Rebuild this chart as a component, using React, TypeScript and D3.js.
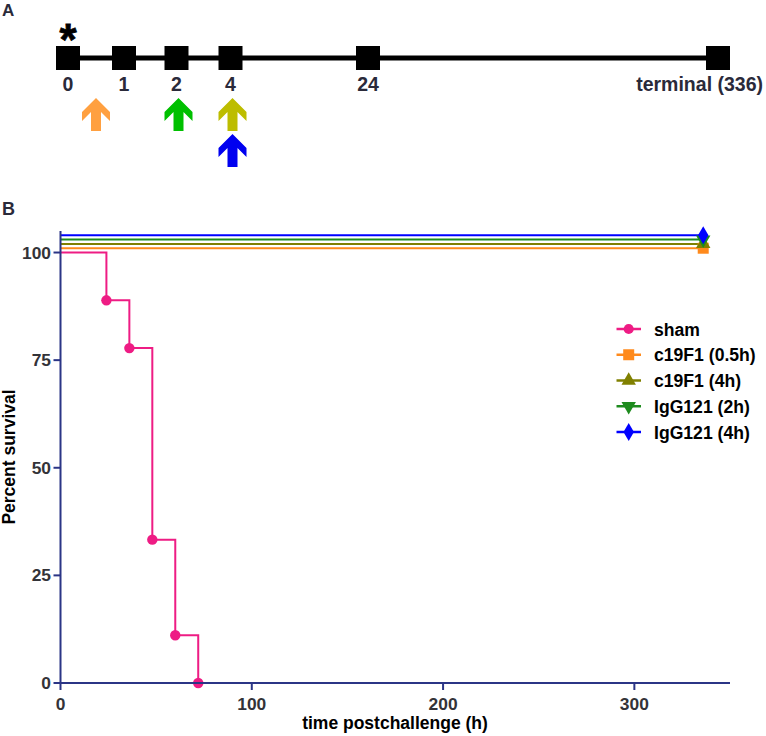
import React from "react";
import * as d3 from "d3";

// ---------- Panel A: schedule ----------
const scheduleHours = [0, 1, 2, 4, 24, 336];
const scheduleLabels = ["0", "1", "2", "4", "24", "terminal (336)"];
// schematic (non-linear) placement of the schedule points
const schedulePixelStops = [68, 124, 176.5, 230.5, 368, 718];
const doseArrows = [
  { hour: 0.5, row: 0, color: "#FFA040" },
  { hour: 2, row: 0, color: "#00C000" },
  { hour: 4, row: 0, color: "#BDBD00" },
  { hour: 4, row: 1, color: "#0000F0" },
];

// ---------- Panel B: survival ----------
const seriesNames = ["sham", "c19F1 (0.5h)", "c19F1 (4h)", "IgG121 (2h)", "IgG121 (4h)"];
const seriesColors = ["#EE1C84", "#FF8A1C", "#808000", "#1E8B1E", "#0000FF"];
const seriesSymbols = [d3.symbolCircle, d3.symbolSquare, d3.symbolTriangle, d3.symbolTriangle, d3.symbolDiamond];
const seriesSymbolRotate = [0, 0, 0, 180, 0];
const seriesSymbolSize = [80, 121, 90, 90, 95];

const shamTimes = [0, 24, 36, 48, 60, 72];
const shamSurvival = [100, 88.9, 77.8, 33.3, 11.1, 0];
// survivors plotted with GraphPad-style offsets above 100
const survivorLevels = [101, 102, 103, 104];
const survivorEnd = 336;

const xTicks = [0, 100, 200, 300];
const yTicks = [0, 25, 50, 75, 100];

const FONT = "'Liberation Sans', Arial, Helvetica, sans-serif";
const AXIS = "#2B3586";
const LABEL = "#333338";

export default function App() {
  const tl = d3.scaleLinear().domain(scheduleHours).range(schedulePixelStops);
  const lineY = 58;
  const sq = 24;

  const x = d3.scaleLinear().domain([0, 350]).range([60.5, 730]);
  const y = d3.scaleLinear().domain([0, 105]).range([683, 231]);

  const stepLine = d3
    .line<[number, number]>()
    .x((d) => x(d[0]))
    .y((d) => y(d[1]))
    .curve(d3.curveStepAfter);
  const shamPts: [number, number][] = shamTimes.map((t, i) => [t, shamSurvival[i]]);

  const legendY = d3.scalePoint<string>().domain(seriesNames).range([329, 432]);

  const sym = (i: number) => d3.symbol().type(seriesSymbols[i]).size(seriesSymbolSize[i])() as string;

  const arrowPath = (cx: number, top: number) => {
    const pts: [number, number][] = [
      [0, 0], [14, 14], [14, 23], [5, 14], [5, 33], [-5, 33], [-5, 14], [-14, 23], [-14, 14],
    ];
    return "M" + pts.map((p) => `${cx + p[0]},${top + p[1]}`).join("L") + "Z";
  };

  return (
    <svg
      width={766}
      height={736}
      style={{ display: "block", position: "absolute", left: 0, top: 0 }}
      fontFamily={FONT}
    >
      <rect width={766} height={736} fill="#fff" />
      {/* Panel A */}
      <text x={2} y={16} fontSize={17} fontWeight="bold" fill="#2a2a3a">A</text>
      <text x={tl(0)} y={55} fontSize={44} fontWeight="bold" textAnchor="middle" fill="#000" stroke="#000" strokeWidth={0.8}>*</text>
      <line x1={tl(0)} x2={tl(336)} y1={lineY} y2={lineY} stroke="#000" strokeWidth={5} />
      {scheduleHours.map((h, i) => (
        <g key={h}>
          <rect x={tl(h) - sq / 2} y={lineY - sq / 2} width={sq} height={sq} fill="#000" />
          <text
            x={i === scheduleHours.length - 1 ? 763 : tl(h)}
            y={91}
            fontSize={19.5}
            fontWeight="bold"
            textAnchor={i === scheduleHours.length - 1 ? "end" : "middle"}
            fill="#2a2a3a"
          >
            {scheduleLabels[i]}
          </text>
        </g>
      ))}
      {doseArrows.map((a, i) => (
        <path key={i} d={arrowPath(tl(a.hour) + (a.hour >= 2 ? 2 : 0), 98 + a.row * 36)} fill={a.color} />
      ))}

      {/* Panel B */}
      <text x={2} y={215} fontSize={18} fontWeight="bold" fill="#2a2a3a">B</text>

      {/* survivors lines */}
      {survivorLevels.map((lv, i) => (
        <g key={lv}>
          <line x1={x(0)} x2={x(survivorEnd)} y1={y(lv)} y2={y(lv)} stroke={seriesColors[i + 1]} strokeWidth={2} />
        </g>
      ))}
      {survivorLevels.map((lv, i) => (
        <path
          key={"m" + lv}
          d={sym(i + 1)}
          transform={`translate(${x(survivorEnd)},${y(lv)}) rotate(${seriesSymbolRotate[i + 1]})`}
          fill={seriesColors[i + 1]}
        />
      ))}

      {/* sham */}
      <path d={stepLine(shamPts) as string} fill="none" stroke={seriesColors[0]} strokeWidth={2} />
      {shamPts.slice(1).map((p, i) => (
        <circle key={i} cx={x(p[0])} cy={y(p[1])} r={5.2} fill={seriesColors[0]} />
      ))}

      {/* axes */}
      <line x1={x(0)} x2={x(0)} y1={y(105)} y2={y(0)} stroke={AXIS} strokeWidth={2} />
      <line x1={x(0)} x2={x(350)} y1={y(0)} y2={y(0)} stroke={AXIS} strokeWidth={2} />
      {yTicks.map((t) => (
        <g key={"y" + t}>
          <line x1={x(0) - 7} x2={x(0)} y1={y(t)} y2={y(t)} stroke={AXIS} strokeWidth={2} />
          <text x={51} y={y(t) + 6} fontSize={17.4} fontWeight="bold" textAnchor="end" fill={LABEL}>
            {t}
          </text>
        </g>
      ))}
      {xTicks.map((t) => (
        <g key={"x" + t}>
          <line x1={x(t)} x2={x(t)} y1={y(0)} y2={y(0) + 7} stroke={AXIS} strokeWidth={2} />
          <text x={x(t)} y={710} fontSize={17.4} fontWeight="bold" textAnchor="middle" fill={LABEL}>
            {t}
          </text>
        </g>
      ))}
      <text x={395} y={729} fontSize={17.5} fontWeight="bold" textAnchor="middle" fill="#000">
        time postchallenge (h)
      </text>
      <text
        transform={`translate(15,${(y(0) + y(105)) / 2}) rotate(-90)`}
        fontSize={17.5}
        fontWeight="bold"
        textAnchor="middle"
        fill="#000"
      >
        Percent survival
      </text>

      {/* legend */}
      {seriesNames.map((n, i) => {
        const ly = legendY(n) as number;
        return (
          <g key={n}>
            <line x1={616.5} x2={641} y1={ly} y2={ly} stroke={seriesColors[i]} strokeWidth={2.5} />
            <path d={sym(i)} transform={`translate(628.7,${ly}) rotate(${seriesSymbolRotate[i]})`} fill={seriesColors[i]} />
            <text x={654} y={ly + 6.5} fontSize={17.6} fontWeight="bold" fill="#000">
              {n}
            </text>
          </g>
        );
      })}
    </svg>
  );
}
